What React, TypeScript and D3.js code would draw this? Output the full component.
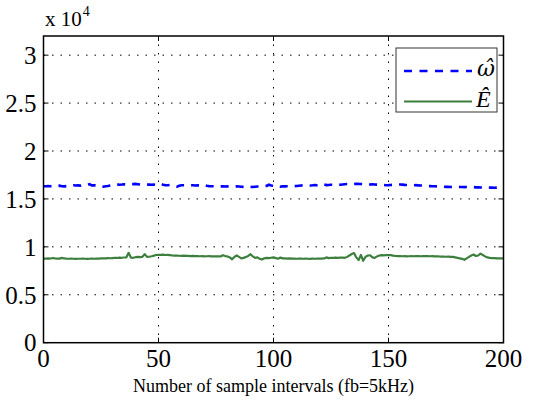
import React from "react";
import * as d3 from "d3";

const omegaHat: number[] = [
  16330,16320,16340,16330,16350,16330,16320,16380,16330,16310,
  16340,16400,16380,16420,16400,16410,16390,16420,16400,16450,
  16550,16420,16430,16410,16390,16300,16280,16320,16350,16400,
  16450,16500,16520,16480,16500,16530,16510,16520,16560,16550,
  16570,16540,16510,16530,16500,16490,16510,16480,16500,16470,
  16450,16560,16480,16440,16430,16450,16400,16300,16270,16380,
  16420,16430,16440,16450,16430,16420,16400,16410,16390,16350,
  16450,16380,16340,16320,16330,16320,16340,16310,16320,16300,
  16310,16290,16300,16280,16310,16290,16270,16260,16280,16250,
  16260,16240,16270,16290,16300,16310,16330,16360,16480,16400,
  16380,16420,16300,16280,16330,16310,16320,16300,16310,16330,
  16350,16380,16400,16420,16410,16430,16400,16420,16450,16430,
  16460,16560,16500,16440,16460,16480,16470,16490,16500,16480,
  16510,16530,16550,16540,16580,16560,16590,16570,16560,16540,
  16530,16520,16510,16530,16500,16490,16480,16470,16450,16430,
  16440,16460,16470,16480,16500,16510,16490,16470,16460,16440,
  16430,16420,16440,16410,16400,16390,16370,16350,16340,16330,
  16320,16310,16300,16280,16270,16260,16270,16250,16260,16240,
  16260,16250,16240,16230,16250,16240,16220,16230,16210,16220,
  16200,16210,16190,16200,16180,16190,16170,16180,16190,16170,
  16180,
];

const eHat: number[] = [
  8780,8770,8790,8780,8840,8800,8780,8770,8850,8790,
  8770,8760,8770,8760,8750,8760,8760,8770,8760,8750,
  8760,8770,8760,8770,8780,8790,8800,8790,8820,8810,
  8830,8850,8840,8870,8860,8890,8900,9380,8880,8860,
  8920,8950,8930,8960,9240,8950,8970,9020,9080,9150,
  9170,9160,9180,9150,9160,9140,9100,9080,9090,9070,
  9060,9080,9050,9060,9040,9050,9030,9040,9020,9030,
  9010,9020,9030,9010,9000,9020,9010,9000,9130,9040,
  9000,8900,8700,8950,9100,8950,8800,8850,8950,9050,
  9230,9000,8850,8900,8750,8680,8800,8850,8820,8860,
  8900,8830,8760,8880,8800,8800,8780,8790,8770,8780,
  8760,8770,8780,8760,8770,8760,8750,8770,8760,8770,
  8780,8770,8790,8900,8820,8860,8850,8870,8860,8880,
  8870,8860,8950,9100,9250,9350,8900,8620,9150,8550,
  8950,9100,9120,8900,8850,9000,9100,9140,9120,9150,
  9140,9130,9080,9050,9040,9030,9020,9030,9010,9020,
  9030,9020,9040,9030,9020,9030,9040,9030,9020,9030,
  9010,9020,9000,8990,8980,8970,8990,8960,8950,8900,
  8850,8800,8750,8650,8800,8950,9100,9200,9050,9100,
  9300,9150,9000,8900,8850,8820,8830,8800,8810,8790,
  8800,
];

const xTicks: number[] = [0, 50, 100, 150, 200];
const yTicks: number[] = [0, 5000, 10000, 15000, 20000, 25000, 30000];
const yTickLabels: string[] = ["0", "0.5", "1", "1.5", "2", "2.5", "3"];
const xLabel = "Number of sample intervals (fb=5kHz)";
const legendLabels: string[] = ["\u03c9\u0302", "\u00ca"];

const W = 556;
const H = 404;
const L = 43.5, R = 503.5, T = 36, B = 342.7;

export default function App() {
  const x = d3.scaleLinear().domain([0, 200]).range([L, R]);
  const y = d3.scaleLinear().domain([0, 32000]).range([B, T]);
  const line = d3
    .line<number>()
    .x((_, i) => x(i))
    .y((d) => y(d));
  const font = "'Liberation Serif', 'Times New Roman', serif";
  const tickLen = 5;
  const legX = 396, legY = 48, legW = 101, legH = 64;

  return (
    <svg
      width={W}
      height={H}
      style={{ position: "absolute", left: 0, top: 0, background: "#fff" }}
      fontFamily={font}
    >
      <rect x={0} y={0} width={W} height={H} fill="#fff" />
      {/* grid */}
      {xTicks.slice(1, -1).map((t) => (
        <line key={"gx" + t} x1={x(t)} x2={x(t)} y1={T} y2={B}
          stroke="#000" strokeWidth={1} strokeDasharray="1.5 7" />
      ))}
      {yTicks.slice(1).map((t) => (
        <line key={"gy" + t} x1={L} x2={R} y1={y(t)} y2={y(t)}
          stroke="#000" strokeWidth={1} strokeDasharray="1.5 7" />
      ))}
      {/* data */}
      <path d={line(eHat) || ""} fill="none" stroke="#3d7f3d" strokeWidth={2.2} strokeLinejoin="round" />
      <path d={line(omegaHat) || ""} fill="none" stroke="#0000ff" strokeWidth={2.6} strokeDasharray="8 7" />
      {/* ticks */}
      {xTicks.map((t) => (
        <g key={"tx" + t}>
          <line x1={x(t)} x2={x(t)} y1={B} y2={B - tickLen} stroke="#000" strokeWidth={1} />
          <line x1={x(t)} x2={x(t)} y1={T} y2={T + tickLen} stroke="#000" strokeWidth={1} />
          <text x={x(t)} y={B + 24} fontSize={25} textAnchor="middle" fill="#000" fontFamily={font}>{t}</text>
        </g>
      ))}
      {yTicks.map((t, i) => (
        <g key={"ty" + t}>
          <line x1={L} x2={L + tickLen} y1={y(t)} y2={y(t)} stroke="#000" strokeWidth={1} />
          <line x1={R} x2={R - tickLen} y1={y(t)} y2={y(t)} stroke="#000" strokeWidth={1} />
          <text x={L - 7} y={y(t)} dy="0.35em" fontSize={25} textAnchor="end" fill="#000" fontFamily={font}>{yTickLabels[i]}</text>
        </g>
      ))}
      {/* axes box */}
      <rect x={L} y={T} width={R - L} height={B - T} fill="none" stroke="#000" strokeWidth={1.5} />
      {/* exponent */}
      <text x={45} y={26} fontSize={21} fill="#000" fontFamily={font}>
        x 10<tspan fontSize={14} dy={-10} dx={1}>4</tspan>
      </text>
      {/* x label */}
      <text x={(L + R) / 2} y={392} fontSize={18} textAnchor="middle" fill="#000" fontFamily={font}>{xLabel}</text>
      {/* legend */}
      <rect x={legX} y={legY} width={legW} height={legH} fill="#fff" stroke="#333" strokeWidth={1} />
      <line x1={404} x2={472} y1={71} y2={71} stroke="#0000ff" strokeWidth={2.6} strokeDasharray="8 7.5" />
      <line x1={404} x2={472} y1={101.5} y2={101.5} stroke="#3d7f3d" strokeWidth={2.2} />
      <text x={477} y={76} fontSize={22} fontStyle="italic" fill="#000" fontFamily="'DejaVu Serif', serif">
        {legendLabels[0]}
      </text>
      <text x={476} y={107} fontSize={24} fontStyle="italic" fill="#000" fontFamily={font}>
        {legendLabels[1]}
      </text>
    </svg>
  );
}
